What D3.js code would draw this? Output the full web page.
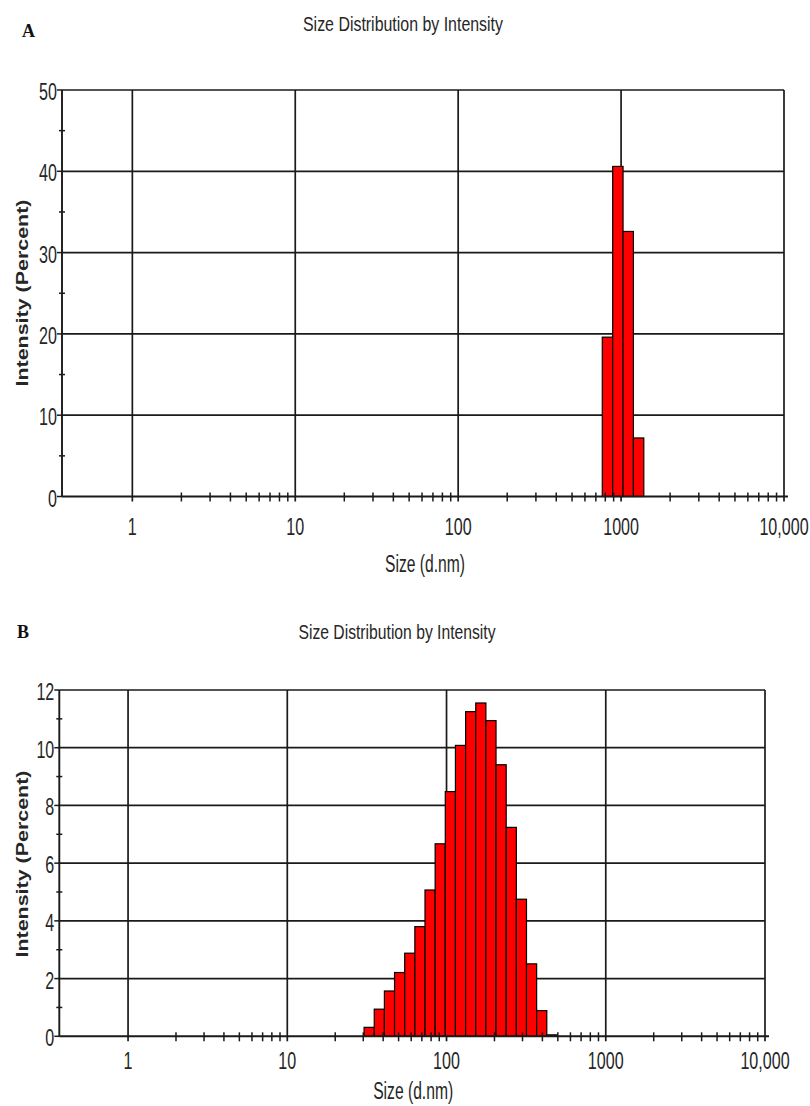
<!DOCTYPE html>
<html>
<head>
<meta charset="utf-8">
<script src="https://cdn.jsdelivr.net/npm/d3@7"></script>
<style>
  html, body { margin: 0; padding: 0; background: #fff; }
  svg { display: block; }
</style>
</head>
<body>
<svg id="fig" width="810" height="1106"></svg>
<script>
// Zetasizer size classes are geometrically spaced: 70 classes from 0.4 nm to 10 µm
const classRatio = Math.pow(10000 / 0.4, 1 / 69);

// Panel A – intensity distribution
const sizesA = [825.0, 955.4, 1106, 1281];
const intensityA = [19.6, 40.6, 32.6, 7.2];
const yTicksA = [0, 10, 20, 30, 40, 50];
const yMinorA = [5, 15, 25, 35, 45];

// Panel B – intensity distribution
const sizesB = [32.67, 37.84, 43.82, 50.75, 58.77, 68.06, 78.82, 91.28, 105.7,
                122.4, 141.8, 164.2, 190.1, 220.2, 255.0, 295.3, 342.0, 396.1, 458.7];
const intensityB = [0.31, 0.94, 1.57, 2.21, 2.88, 3.80, 5.07, 6.67, 8.48,
                    10.08, 11.25, 11.55, 10.94, 9.41, 7.24, 4.75, 2.51, 0.89, 0.05];
const yTicksB = [0, 2, 4, 6, 8, 10, 12];
const yMinorB = [1, 3, 5, 7, 9, 11];

// Shared size axis
const xTicks = [1, 10, 100, 1000, 10000];
const xTickLabels = ["1", "10", "100", "1000", "10,000"];
const xDomain = [0.37, 10000];

const titleText = "Size Distribution by Intensity";
const xLabelText = "Size (d.nm)";
const yLabelText = "Intensity (Percent)";

const svg = d3.select("#fig");
const INK = "#1a1a1a";
const TEXT = "#262626";
const SANS = "'Liberation Sans', Arial, sans-serif";
const LW = 1.7;

function condensedText(g, x, y, str, size, sx, anchor) {
  return g.append("text")
    .attr("transform", `translate(${x},${y}) scale(${sx},1)`)
    .attr("text-anchor", anchor)
    .attr("font-family", SANS)
    .attr("font-size", size)
    .attr("fill", TEXT)
    .text(str);
}

function drawPanel(opt) {
  const g = svg.append("g");
  const x = d3.scaleLog().domain(xDomain).range([opt.left, opt.right]);
  const y = d3.scaleLinear().domain([0, opt.yMax]).range([opt.bottom, opt.top]);

  // panel letter
  g.append("text")
    .attr("x", opt.letterX).attr("y", opt.letterY)
    .attr("font-family", "'Liberation Serif', 'Times New Roman', serif")
    .attr("font-weight", "bold").attr("font-size", 18)
    .attr("fill", "#111")
    .text(opt.letter);

  // title
  g.append("text")
    .attr("x", opt.titleX).attr("y", opt.titleY)
    .attr("text-anchor", "middle")
    .attr("font-family", SANS).attr("font-size", 20)
    .attr("textLength", opt.titleW).attr("lengthAdjust", "spacingAndGlyphs")
    .attr("fill", TEXT)
    .text(titleText);

  // grid: horizontal lines at major y ticks
  g.append("g").selectAll("line").data(opt.yTicks.filter(d => d > 0)).join("line")
    .attr("x1", opt.left).attr("x2", opt.right)
    .attr("y1", d => y(d)).attr("y2", d => y(d))
    .attr("stroke", INK).attr("stroke-width", LW);

  // grid: vertical lines at decades
  g.append("g").selectAll("line").data(xTicks).join("line")
    .attr("x1", d => x(d)).attr("x2", d => x(d))
    .attr("y1", opt.top).attr("y2", opt.bottom + 5)
    .attr("stroke", INK).attr("stroke-width", LW);

  // bars, one per size class
  g.append("g").selectAll("rect").data(opt.sizes.map((s, i) => ({ s, v: opt.values[i] }))).join("rect")
    .attr("x", d => x(d.s / Math.sqrt(classRatio)))
    .attr("width", d => x(d.s * Math.sqrt(classRatio)) - x(d.s / Math.sqrt(classRatio)))
    .attr("y", d => y(d.v))
    .attr("height", d => y(0) - y(d.v))
    .attr("fill", "#ff0000")
    .attr("stroke", "#000").attr("stroke-width", 1.2);

  // axis lines
  g.append("line")
    .attr("x1", opt.left).attr("x2", opt.right + 4)
    .attr("y1", opt.bottom).attr("y2", opt.bottom)
    .attr("stroke", INK).attr("stroke-width", 1.9);
  g.append("line")
    .attr("x1", opt.left).attr("x2", opt.left)
    .attr("y1", opt.top).attr("y2", opt.bottom)
    .attr("stroke", INK).attr("stroke-width", 1.9);

  // minor x ticks (2–9 within each decade from 1 upward)
  const minorX = x.ticks().filter(t => t > 1 && t < 10000 && !xTicks.includes(t));
  g.append("g").selectAll("line").data(minorX).join("line")
    .attr("x1", d => x(d)).attr("x2", d => x(d))
    .attr("y1", opt.bottom - 4).attr("y2", opt.bottom + 5)
    .attr("stroke", INK).attr("stroke-width", 1.5);

  // y ticks
  g.append("g").selectAll("line").data(opt.yTicks).join("line")
    .attr("x1", opt.left - 5).attr("x2", opt.left)
    .attr("y1", d => y(d)).attr("y2", d => y(d))
    .attr("stroke", INK).attr("stroke-width", 1.5);
  g.append("g").selectAll("line").data(opt.yMinor).join("line")
    .attr("x1", opt.left - 3).attr("x2", opt.left + 3)
    .attr("y1", d => y(d)).attr("y2", d => y(d))
    .attr("stroke", INK).attr("stroke-width", 1.5);

  // y tick labels
  opt.yTicks.forEach(t => {
    condensedText(g, opt.left - 5, y(t) + 10, String(t), 23, 0.7, "end");
  });

  // x tick labels
  xTicks.forEach((t, i) => {
    condensedText(g, x(t), opt.bottom + opt.xLabOff, xTickLabels[i], 23, 0.7, "middle");
  });

  // x axis title
  g.append("text")
    .attr("x", (opt.left + opt.right) / 2 + opt.xTitleShift).attr("y", opt.bottom + opt.xTitleOff)
    .attr("text-anchor", "middle")
    .attr("font-family", SANS).attr("font-size", 23)
    .attr("textLength", 80).attr("lengthAdjust", "spacingAndGlyphs")
    .attr("fill", TEXT)
    .text(xLabelText);

  // y axis title
  g.append("text")
    .attr("transform", `translate(${opt.yTitleX},${opt.yTitleY}) rotate(-90)`)
    .attr("text-anchor", "middle")
    .attr("font-family", SANS).attr("font-size", 16).attr("font-weight", "bold")
    .attr("textLength", 187).attr("lengthAdjust", "spacingAndGlyphs")
    .attr("fill", TEXT)
    .text(yLabelText);
}

drawPanel({
  letter: "A", letterX: 22, letterY: 37,
  titleX: 403, titleY: 31, titleW: 200,
  left: 62, right: 784, top: 90, bottom: 496.5, yMax: 50,
  yTicks: yTicksA, yMinor: yMinorA,
  sizes: sizesA, values: intensityA,
  xLabOff: 38, xTitleOff: 75, xTitleShift: 2,
  yTitleX: 28, yTitleY: 293
});

drawPanel({
  letter: "B", letterX: 17, letterY: 638,
  titleX: 397, titleY: 639, titleW: 197,
  left: 59.3, right: 765, top: 690, bottom: 1036.3, yMax: 12,
  yTicks: yTicksB, yMinor: yMinorB,
  sizes: sizesB, values: intensityB,
  xLabOff: 33, xTitleOff: 63, xTitleShift: 1,
  yTitleX: 28, yTitleY: 864
});
</script>
</body>
</html>
